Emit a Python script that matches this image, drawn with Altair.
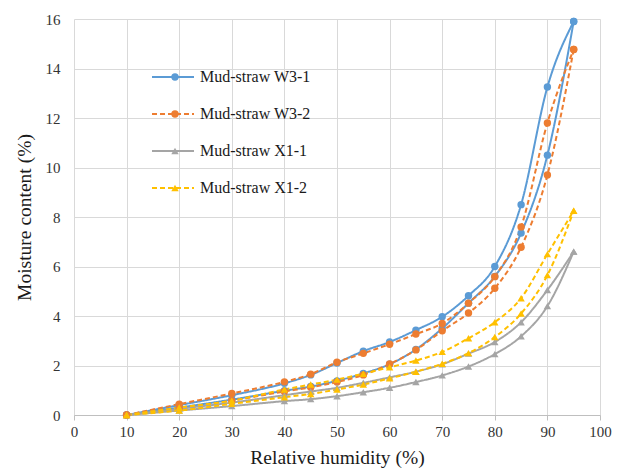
import altair as alt
import pandas as pd

series_names = ["Mud-straw W3-1", "Mud-straw W3-2", "Mud-straw X1-1", "Mud-straw X1-2"]
series_colors = ["#5B9BD5", "#ED7D31", "#A5A5A5", "#FFC000"]
series_dashes = [[1, 0], [5, 3], [1, 0], [5, 3]]
series_shapes = ["circle", "circle", "triangle-up", "triangle-up"]

rh = [10, 20, 30, 40, 45, 50, 55, 60, 65, 70, 75, 80, 85, 90, 95]

w31_ads = [0, 0.30, 0.62, 0.98, 1.15, 1.38, 1.68, 2.05, 2.65, 3.50, 4.52, 5.60, 7.35, 10.50, 15.90]
w31_des = [0, 0.40, 0.80, 1.28, 1.62, 2.10, 2.58, 2.95, 3.43, 3.97, 4.82, 6.00, 8.50, 13.25, 15.90]
w32_ads = [0, 0.28, 0.58, 0.95, 1.12, 1.33, 1.62, 2.06, 2.63, 3.40, 4.12, 5.12, 6.78, 9.70, 14.77]
w32_des = [0, 0.44, 0.87, 1.34, 1.65, 2.13, 2.49, 2.86, 3.27, 3.70, 4.52, 5.59, 7.60, 11.80, 14.77]
x11_ads = [0, 0.18, 0.36, 0.56, 0.64, 0.76, 0.92, 1.10, 1.33, 1.60, 1.96, 2.46, 3.18, 4.40, 6.60]
x11_des = [0, 0.25, 0.50, 0.80, 0.95, 1.10, 1.30, 1.52, 1.75, 2.05, 2.48, 2.95, 3.75, 5.05, 6.60]
x12_ads = [0, 0.18, 0.45, 0.72, 0.85, 1.03, 1.23, 1.48, 1.75, 2.07, 2.50, 3.15, 4.10, 5.65, 8.25]
x12_des = [0, 0.30, 0.58, 1.03, 1.23, 1.43, 1.67, 1.93, 2.20, 2.55, 3.10, 3.75, 4.72, 6.50, 8.25]

x_ticks = list(range(0, 101, 10))
y_ticks = list(range(0, 17, 2))

branches = {
    series_names[0]: (w31_ads, w31_des),
    series_names[1]: (w32_ads, w32_des),
    series_names[2]: (x11_ads, x11_des),
    series_names[3]: (x12_ads, x12_des),
}

rows = []
for name, (ads, des) in branches.items():
    for b, vals in (("ads", ads), ("des", des)):
        for x, y in zip(rh, vals):
            rows.append({"series": name, "series_b": name, "branch": name + b, "rh": x, "mc": y})
df = pd.DataFrame(rows)

FONT = "Liberation Serif"

x_enc = alt.X("rh:Q", scale=alt.Scale(domain=[0, 100], nice=False),
              axis=alt.Axis(values=x_ticks, grid=True, gridColor="#D9D9D9", gridWidth=1,
                            domainColor="#BFBFBF", tickColor="#BFBFBF", tickSize=5,
                            labelFlush=False,
                            labelFont=FONT, labelFontSize=15, labelColor="#333333", labelPadding=4,
                            title="Relative humidity (%)", titleFont=FONT, titleFontSize=19.5,
                            titleFontWeight="normal", titleColor="#1a1a1a", titlePadding=9))
y_enc = alt.Y("mc:Q", scale=alt.Scale(domain=[0, 16], nice=False),
              axis=alt.Axis(values=y_ticks, grid=True, gridColor="#D9D9D9", gridWidth=1,
                            domain=False, ticks=False, labelFlush=False,
                            labelFont=FONT, labelFontSize=15, labelColor="#333333", labelPadding=14,
                            title="Moisture content (%)", titleFont=FONT, titleFontSize=19.5,
                            titleFontWeight="normal", titleColor="#1a1a1a", titlePadding=11))

legend_a = alt.Legend(title=None, orient="none", legendX=91, legendY=50,
                      symbolType="M-4.2,0H4.2", symbolSize=100, symbolStrokeWidth=2,
                      labelFont=FONT, labelFontSize=16, labelColor="#1a1a1a",
                      labelOffset=19, rowPadding=21, padding=0)

lines = alt.Chart(df).mark_line(interpolate="monotone", strokeWidth=2).encode(
    x=x_enc,
    y=y_enc,
    color=alt.Color("series:N", scale=alt.Scale(domain=series_names, range=series_colors), legend=legend_a),
    strokeDash=alt.StrokeDash("series:N", scale=alt.Scale(domain=series_names, range=series_dashes), legend=legend_a),
    detail="branch:N",
    order=alt.Order("rh:Q"),
)

legend_b = alt.Legend(title=None, orient="none", legendX=93, legendY=50,
                      symbolSize=55, symbolStrokeWidth=0, symbolOpacity=1,
                      labelFont=FONT, labelFontSize=16, labelExpr="''",
                      labelOffset=19, rowPadding=21, padding=0)

points = alt.Chart(df).mark_point(filled=True, size=55, opacity=1).encode(
    x="rh:Q",
    y="mc:Q",
    color=alt.Color("series_b:N", scale=alt.Scale(domain=series_names, range=series_colors), legend=legend_b),
    shape=alt.Shape("series_b:N", scale=alt.Scale(domain=series_names, range=series_shapes), legend=legend_b),
)

chart = alt.layer(lines, points).resolve_scale(
    color="independent", shape="independent", strokeDash="independent"
).properties(
    width=526, height=396,
    padding={"left": 74, "top": 19, "right": 20, "bottom": 58},
    autosize=alt.AutoSizeParams(type="none"),
).configure(font=FONT).configure_view(stroke=None)

chart.save("out.html", embed_options={"renderer": "svg", "actions": False})
